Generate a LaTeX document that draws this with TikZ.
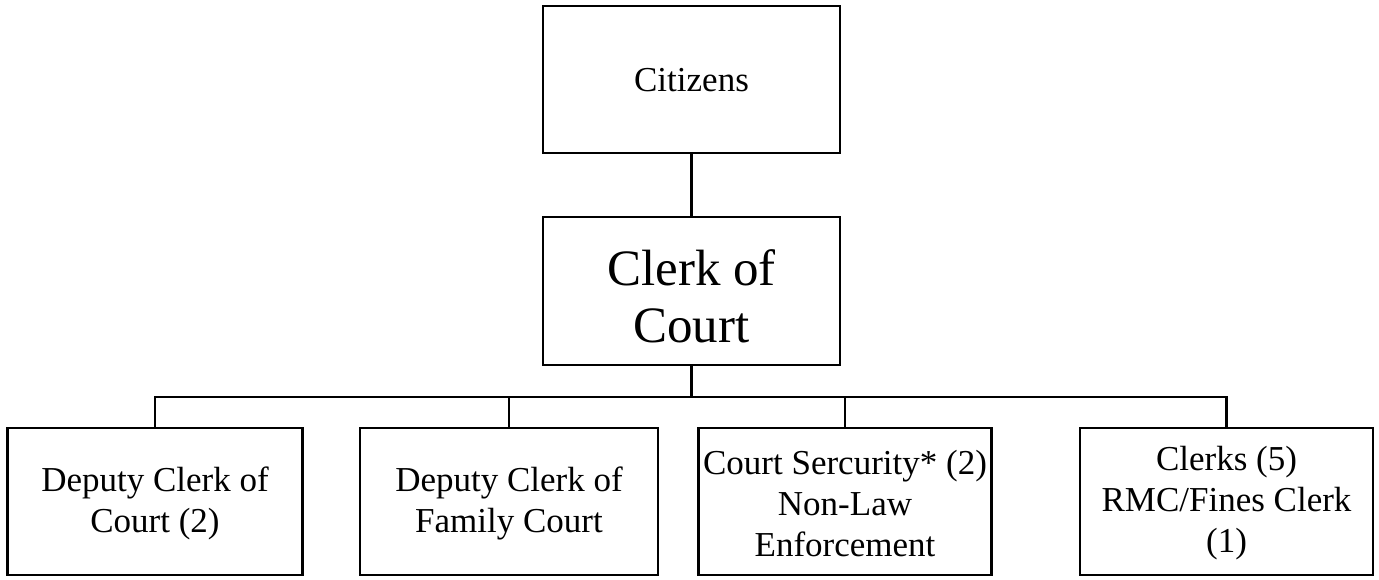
\documentclass[tikz,border=0pt]{standalone}
\usepackage{fontspec}
\setmainfont{Liberation Serif}
\begin{document}
\begin{tikzpicture}[x=1pt,y=-1pt,
  box/.style={draw=black,line width=2.6pt,inner sep=0pt,outer sep=0pt,fill=white},
  small/.style={box,minimum width=295pt,minimum height=147pt},
  lbl/.style={align=center,inner sep=0pt,font=\fontsize{35}{41}\selectfont},
  big/.style={align=center,inner sep=0pt,font=\fontsize{51}{57}\selectfont},
  wire/.style={line width=2.6pt}]
\useasboundingbox (0,0) rectangle (1379,579);
% top of the chart
\node[box,minimum width=297pt,minimum height=147pt] (cit) at (691.5,79.5) {};
\node[lbl] (tcit) at (691.5,80) {Citizens};
\node[box,minimum width=297pt,minimum height=148pt] (clerk) at (691.5,291) {};
\node[big] (tclerk) at (691.5,296) {Clerk of\\Court};
% departments
\node[small] (b1) at (155,501.5) {};
\node[small,minimum width=298pt] (b2) at (509,501.5) {};
\node[small,minimum width=293pt] (b3) at (845,501.5) {};
\node[small,minimum width=293pt] (b4) at (1226.5,501.5) {};
\node[lbl] (t1) at (b1.center) [yshift=-2pt] {Deputy Clerk of\\Court (2)};
\node[lbl] (t2) at (b2.center) [yshift=-2pt] {Deputy Clerk of\\Family Court};
\node[lbl] (t3) at (b3.center) [yshift=-2pt] {Court Sercurity* (2)\\Non-Law\\Enforcement};
\node[lbl] (t4) at (b4.center) [yshift=-2pt] {Clerks (5)\\RMC/Fines Clerk\\(1)};
% connectors
\coordinate (bus) at (691.5,397);
\draw[wire] (cit.south) -- (clerk.north);
\draw[wire] (clerk.south) -- (bus);
\draw[wire] (b1.north) -- (b1.north |- bus) -- (b4.north |- bus) -- (b4.north);
\draw[wire] (b2.north) -- (b2.north |- bus);
\draw[wire] (b3.north) -- (b3.north |- bus);
\end{tikzpicture}
\end{document}
